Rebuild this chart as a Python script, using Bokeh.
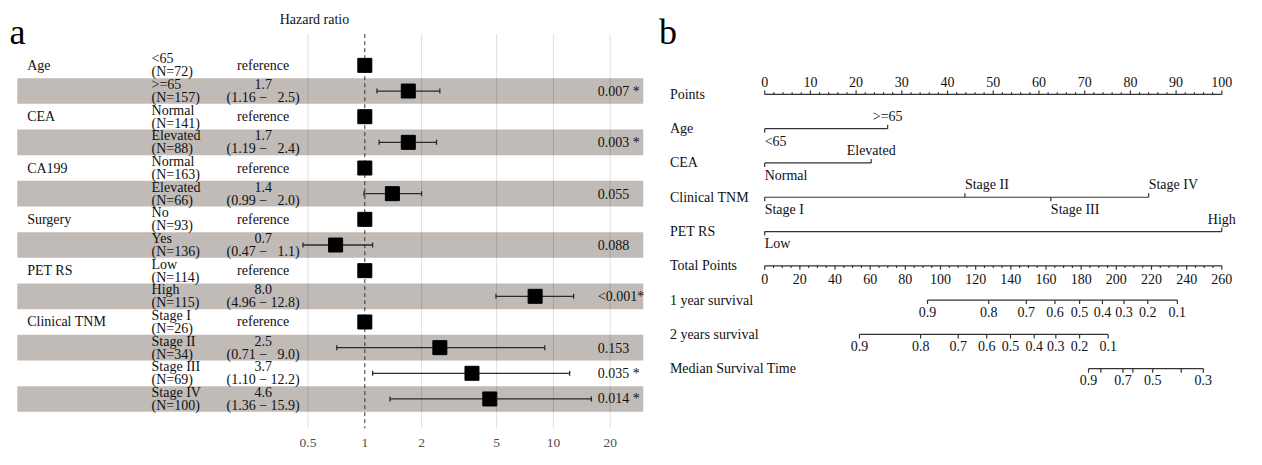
import numpy as np
from bokeh.plotting import figure
from bokeh.models import Range1d, FixedTicker, CustomJSTickFormatter, ColumnDataSource
from bokeh.layouts import row
from bokeh.embed import file_html
from bokeh.resources import INLINE
from bokeh.core.properties import value

FONT = "Liberation Serif"
TXT = "#111111"

# ---------------- panel a : forest plot data ----------------
variables = ["Age", "", "CEA", "", "CA199", "", "Surgery", "", "PET RS", "",
             "Clinical TNM", "", "", ""]
levels = ["<65", ">=65", "Normal", "Elevated", "Normal", "Elevated", "No", "Yes",
          "Low", "High", "Stage I", "Stage II", "Stage III", "Stage IV"]
counts = [72, 157, 141, 88, 163, 66, 93, 136, 114, 115, 26, 34, 69, 100]
hr = [1, 1.7, 1, 1.7, 1, 1.4, 1, 0.7, 1, 8.0, 1, 2.5, 3.7, 4.6]
ci_low = [None, 1.16, None, 1.19, None, 0.99, None, 0.47, None, 4.96, None, 0.71, 1.10, 1.36]
ci_high = [None, 2.5, None, 2.4, None, 2.0, None, 1.1, None, 12.8, None, 9.0, 12.2, 15.9]
p_values = ["", "0.007 *", "", "0.003 *", "", "0.055", "", "0.088", "", "<0.001*",
            "", "0.153", "0.035 *", "0.014 *"]
hr_ticks = [0.5, 1, 2, 5, 10, 20]

# ---------------- panel b : nomogram data ----------------
points_major = [0, 10, 20, 30, 40, 50, 60, 70, 80, 90, 100]
points_minor_step = 2
age_levels = ["<65", ">=65"]
age_points = [0, 26.9]
cea_levels = ["Normal", "Elevated"]
cea_points = [0, 23.3]
tnm_levels = ["Stage I", "Stage II", "Stage III", "Stage IV"]
tnm_points = [0, 43.8, 62.6, 84.0]
pet_levels = ["Low", "High"]
pet_points = [0, 100]
total_major = [0, 20, 40, 60, 80, 100, 120, 140, 160, 180, 200, 220, 240, 260]
total_minor_step = 5
surv1_labels = ["0.9", "0.8", "0.7", "0.6", "0.5", "0.4", "0.3", "0.2", "0.1"]
surv1_total = [92.6, 127.4, 148.8, 165.1, 179.1, 192.1, 204.4, 217.9, 234.7]
surv2_labels = ["0.9", "0.8", "0.7", "0.6", "0.5", "0.4", "0.3", "0.2", "0.1"]
surv2_total = [53.9, 88.7, 110.1, 126.3, 139.8, 153.3, 165.6, 179.1, 195.4]
median_labels = ["0.9", "", "0.7", "", "0.5", "", "0.3"]
median_total = [184.2, 191.2, 203.8, 209.4, 220.7, 236.9, 249.5]

# ---------------- layout helpers (reference-pixel geometry) ----------------
PA_W, PA_H, PA_FRAME_H = 650, 449, 430
PB_W, PB_H = 596, 449
SX, SY = (PA_W + PB_W) / 1262.0, PA_H / 465.0


def a_x(X):   # panel a: horizontal position -> hazard ratio scale
    return 10 ** ((X - 369.0) / 191.0)


def a_y(Y):   # panel a: vertical position -> row units
    return (Y - 67.5) / 26.7


def b_x(X):   # panel b: horizontal position -> points scale
    return (X - 774.0) / 4.63


def b_y(Y):   # panel b: vertical position -> row units
    return (Y - 102.0) / 37.25


# ================= panel a =================
pa = figure(width=PA_W, height=PA_H, x_axis_type="log",
            x_range=Range1d(a_x(0), a_x(PA_W / SX)),
            y_range=Range1d(a_y(PA_FRAME_H / SY), a_y(0)),
            y_axis_location=None, output_backend="svg", toolbar_location=None,
            min_border=0, outline_line_color=None)
pa.xgrid.visible = False
pa.ygrid.visible = False
ax = pa.xaxis[0]
ax.ticker = FixedTicker(ticks=hr_ticks, minor_ticks=[])
ax.formatter = CustomJSTickFormatter(code="return String(tick)")
ax.axis_line_color = None
ax.major_tick_line_color = None
ax.minor_tick_line_color = None
ax.major_label_standoff = 4
ax.major_label_text_font = FONT
ax.major_label_text_font_size = "13.5px"
ax.major_label_text_color = "#4d4d4d"

rows = list(range(len(levels)))
band_rows = [r for r in rows if r % 2 == 1]
pa.quad(left=a_x(17), right=a_x(651),
        top=[r - 0.5 for r in band_rows], bottom=[r + 0.5 for r in band_rows],
        fill_color="#c0bbb7", line_color=None)

grid_top = a_y(35)
grid_bottom = a_y(PA_FRAME_H / SY)
grid_vals = [t for t in hr_ticks if t != 1]
pa.segment(x0=grid_vals, y0=grid_top, x1=grid_vals, y1=grid_bottom,
           line_color="black", line_alpha=0.13, line_width=1)
pa.segment(x0=[1], y0=grid_top, x1=[1], y1=grid_bottom,
           line_color="#333333", line_width=1, line_dash="4 3")

# error bars
eb_rows = [r for r in rows if ci_low[r] is not None]
eb = ColumnDataSource(dict(y=eb_rows, lo=[ci_low[r] for r in eb_rows],
                           hi=[ci_high[r] for r in eb_rows]))
pa.segment(x0="lo", y0="y", x1="hi", y1="y", source=eb, line_color="#2b2b2b", line_width=1.3)
pa.scatter(x="lo", y="y", source=eb, marker="dash", angle=np.pi / 2, size=5,
           line_color="#2b2b2b", line_width=1.3)
pa.scatter(x="hi", y="y", source=eb, marker="dash", angle=np.pi / 2, size=5,
           line_color="#2b2b2b", line_width=1.3)
pa.scatter(x=hr, y=rows, marker="square", size=14, fill_color="black", line_color="black")

# texts
level_txt = [f"{lv}\n(N={n})" for lv, n in zip(levels, counts)]
hr_txt = ["reference" if ci_low[r] is None else
          f"{hr[r]:.1f}\n({ci_low[r]:.2f} \u2212 {ci_high[r]:4.1f})".replace("  ", "\u2007 ")
          for r in rows]
common = dict(text_font=value(FONT), text_font_size="14px", text_color=TXT,
              text_baseline="middle", text_line_height=0.88)
pa.text(x=a_x(27), y=rows, text=variables, text_align="left", **common)
pa.text(x=a_x(153), y=rows, text=level_txt, text_align="left", **common)
pa.text(x=a_x(266), y=rows, text=hr_txt, text_align="center", **common)
pa.text(x=a_x(605), y=rows, text=p_values, text_align="left", **common)
pa.text(x=[a_x(318)], y=[a_y(20)], text=["Hazard ratio"], text_align="center",
        text_font=value(FONT), text_font_size="14px", text_color=TXT, text_baseline="middle")
pa.text(x=[a_x(9)], y=[a_y(33)], text=["a"], text_align="left",
        text_font=value(FONT), text_font_size="36px", text_color="black",
        text_baseline="alphabetic")

# ================= panel b =================
pb = figure(width=PB_W, height=PB_H,
            x_range=Range1d(b_x(PA_W / SX), b_x((PA_W + PB_W) / SX)),
            y_range=Range1d(b_y(PB_H / SY), b_y(0)),
            x_axis_location=None, y_axis_location=None,
            output_backend="svg", toolbar_location=None,
            min_border=0, outline_line_color=None)
pb.xgrid.visible = False
pb.ygrid.visible = False
ratio = 260 / 100
xr = pb.x_range
pb.extra_x_ranges = {"total": Range1d(xr.start * ratio, xr.end * ratio)}

LINE = "#333333"
MAJ = 4.2 / 37.25 / SY
MIN = 2.2 / 37.25 / SY
OFF = 13.5 / 37.25

row_names = ["Points", "Age", "CEA", "Clinical TNM", "PET RS", "Total Points",
             "1 year survival", "2 years survival", "Median Survival Time"]
pb.text(x=b_x(678), y=list(range(len(row_names))), text=row_names, text_align="left",
        text_baseline="middle", text_font=value(FONT), text_font_size="14px", text_color=TXT)
pb.text(x=[b_x(667)], y=[b_y(34)], text=["b"], text_align="left", text_baseline="alphabetic",
        text_font=value(FONT), text_font_size="36px", text_color="black")

lbl = dict(text_font=value(FONT), text_font_size="14px", text_color=TXT, text_baseline="middle")

# Points axis (row 0): ticks up, labels above
r0 = 0
pb.segment(x0=[0], y0=r0, x1=[100], y1=r0, line_color=LINE, line_width=1.2)
minor = [v for v in range(0, 101, points_minor_step) if v not in points_major]
pb.segment(x0=points_major, y0=r0, x1=points_major, y1=r0 - MAJ, line_color=LINE, line_width=1.2)
pb.segment(x0=minor, y0=r0, x1=minor, y1=r0 - MIN, line_color=LINE, line_width=1.2)
pb.text(x=points_major, y=r0 - OFF, text=[str(v) for v in points_major], text_align="center", **lbl)

# predictor rows
predictors = [
    (1, age_points, age_levels, ["below", "above"], ["left", "center"]),
    (2, cea_points, cea_levels, ["below", "above"], ["left", "center"]),
    (3, tnm_points, tnm_levels, ["below", "above", "below", "above"], ["left", "left", "left", "left"]),
    (4, pet_points, pet_levels, ["below", "above"], ["left", "center"]),
]
for rr, pts, labs, sides, aligns in predictors:
    pb.segment(x0=[min(pts)], y0=rr, x1=[max(pts)], y1=rr, line_color=LINE, line_width=1.2)
    ends = [rr + MAJ if s == "below" else rr - MAJ for s in sides]
    pb.segment(x0=pts, y0=rr, x1=pts, y1=ends, line_color=LINE, line_width=1.2)
    for al in ("left", "center"):
        idx = [i for i, a in enumerate(aligns) if a == al]
        if idx:
            pb.text(x=[pts[i] for i in idx],
                    y=[rr + OFF if sides[i] == "below" else rr - OFF for i in idx],
                    text=[labs[i] for i in idx], text_align=al, **lbl)

# Total points axis (row 5): ticks down, labels below
r5 = 5
pb.segment(x0=[0], y0=r5, x1=[260], y1=r5, line_color=LINE, line_width=1.2, x_range_name="total")
tminor = [v for v in range(0, 261, total_minor_step) if v not in total_major]
pb.segment(x0=total_major, y0=r5, x1=total_major, y1=r5 + MAJ, line_color=LINE, line_width=1.2,
           x_range_name="total")
pb.segment(x0=tminor, y0=r5, x1=tminor, y1=r5 + MIN, line_color=LINE, line_width=1.2,
           x_range_name="total")
pb.text(x=total_major, y=r5 + OFF + 0.02, text=[str(v) for v in total_major], text_align="center",
        x_range_name="total", **lbl)

# survival rows
for rr, tot, labs in [(6, surv1_total, surv1_labels), (7, surv2_total, surv2_labels),
                      (8, median_total, median_labels)]:
    pb.segment(x0=[min(tot)], y0=rr, x1=[max(tot)], y1=rr, line_color=LINE, line_width=1.2,
               x_range_name="total")
    pb.segment(x0=tot, y0=rr, x1=tot, y1=rr + MAJ, line_color=LINE, line_width=1.2,
               x_range_name="total")
    pb.text(x=tot, y=rr + OFF - 0.02, text=labs, text_align="center", x_range_name="total", **lbl)

layout = row(pa, pb, spacing=0)
open("out.html", "w").write(file_html(layout, INLINE))
